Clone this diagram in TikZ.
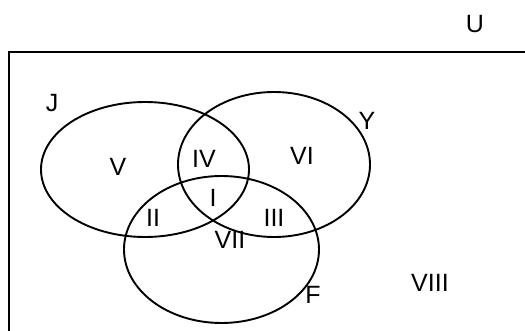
\documentclass[tikz,border=0pt]{standalone}
\usepackage{fontspec}
\setmainfont{Liberation Sans}
\begin{document}
\begin{tikzpicture}[x=1pt,y=-1pt,
  lbl/.style={inner sep=0pt,font=\fontsize{25}{28}\selectfont},
  setline/.style={line width=1.9pt}]
\useasboundingbox (0,0) rectangle (525,331);
\clip (0,0) rectangle (525,331);
\draw[line width=2pt] (9,52) rectangle (540,345);
\draw[setline] (145,169.5) ellipse [x radius=104, y radius=67.5];
\draw[setline] (274,164.5) ellipse [x radius=96, y radius=72.5];
\draw[setline] (221.5,249.5) ellipse [x radius=97.5, y radius=73.5];
\node[lbl] (u) at (475,24) {U};
\node[lbl] (j) at (52,103) {J};
\node[lbl] (y) at (367,121) {Y};
\node[lbl] (f) at (313,295) {F};
\node[lbl] (r5) at (118,167) {V};
\node[lbl] (r4) at (204,159) {IV};
\node[lbl] (r6) at (302,156) {VI};
\node[lbl] (r1) at (213,198) {I};
\node[lbl] (r2) at (153,218) {II};
\node[lbl] (r3) at (274,218) {III};
\node[lbl] (r7) at (230,240) {VII};
\node[lbl] (r8) at (430,283) {VIII};
\end{tikzpicture}
\end{document}
